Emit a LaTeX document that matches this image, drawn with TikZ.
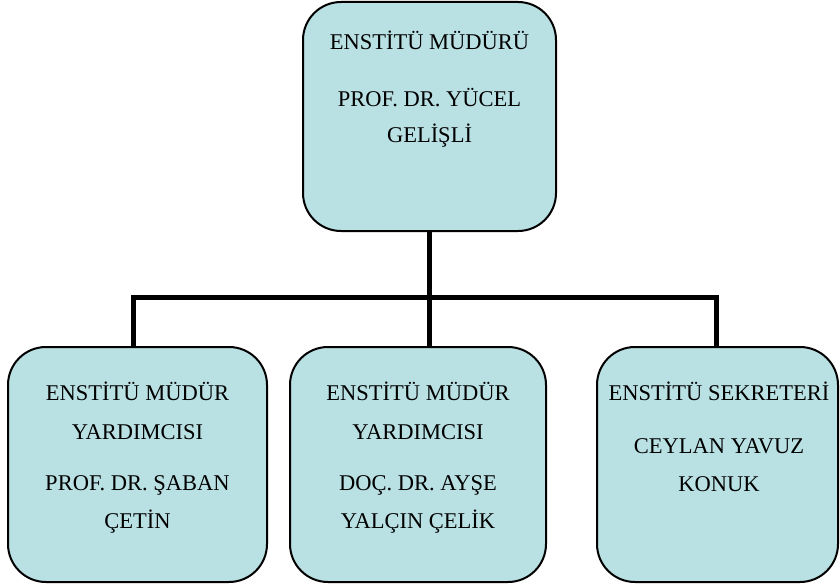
\documentclass[tikz,border=0pt]{standalone}
\usepackage{fontspec}
\setmainfont{Liberation Serif}
\definecolor{boxfill}{HTML}{B9E0E3}
\tikzset{
  box/.style={draw=black, line width=2pt, fill=boxfill, rounded corners=38pt, inner sep=0pt},
  lbl/.style={anchor=base, inner sep=0pt, font=\fontsize{22.5}{27}\selectfont},
  conn/.style={line width=5pt, line join=miter}
}
\begin{document}
\begin{tikzpicture}[x=1pt,y=-1pt]
\useasboundingbox (0,0) rectangle (840,586);
% boxes
\node[box, minimum width=253pt, minimum height=229pt] (top) at (429.5,116.5) {};
\node[box, minimum width=259pt, minimum height=235pt] (left) at (137.5,464.5) {};
\node[box, minimum width=256pt, minimum height=235pt] (mid) at (418,464.5) {};
\node[box, minimum width=241pt, minimum height=235pt] (right) at (717.5,464.5) {};
% connectors
\coordinate (dl) at (133,297);
\coordinate (dr) at (716,297);
\draw[conn] (top.south) -- (mid.north -| top.south);
\draw[conn] (left.north -| dl) -- (dl) -- (dr) -- (right.north -| dr);
% top text
\node[lbl] (t1) at (429.5,49) {ENSTİTÜ MÜDÜRÜ};
\node[lbl] (t2) at (429.5,106) {PROF. DR. YÜCEL};
\node[lbl] (t3) at (429.5,142) {GELİŞLİ};
% left text
\node[lbl] (l1) at (137.5,400) {ENSTİTÜ MÜDÜR};
\node[lbl] (l2) at (137.5,439) {YARDIMCISI};
\node[lbl] (l3) at (137.5,490) {PROF. DR. ŞABAN};
\node[lbl] (l4) at (137.5,528) {ÇETİN};
% middle text
\node[lbl] (m1) at (418,400) {ENSTİTÜ MÜDÜR};
\node[lbl] (m2) at (418,439) {YARDIMCISI};
\node[lbl] (m3) at (418,490) {DOÇ. DR. AYŞE};
\node[lbl] (m4) at (418,528) {YALÇIN ÇELİK};
% right text
\node[lbl] (r1) at (719,400) {ENSTİTÜ SEKRETERİ};
\node[lbl] (r2) at (719,453) {CEYLAN YAVUZ};
\node[lbl] (r3) at (719,491) {KONUK};
\end{tikzpicture}
\end{document}
